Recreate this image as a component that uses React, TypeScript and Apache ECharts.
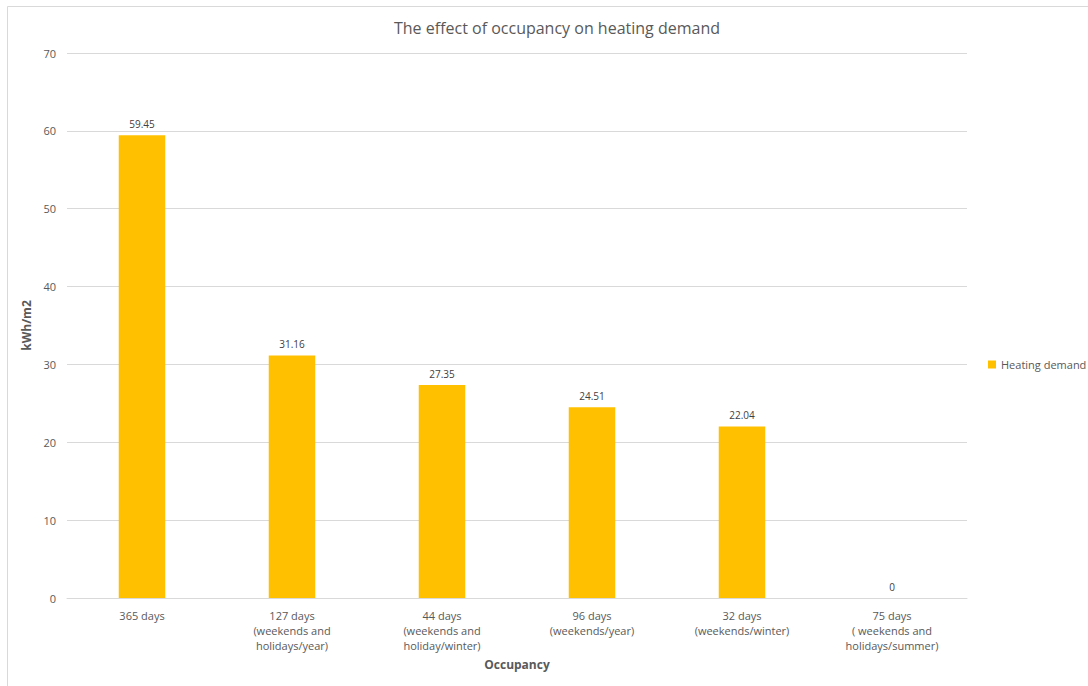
import React, { useEffect, useRef } from "react";
import * as echarts from "echarts";

const categories = [
  "365 days",
  "127 days\n(weekends and\nholidays/year)",
  "44 days\n(weekends and\nholiday/winter)",
  "96 days\n(weekends/year)",
  "32 days\n(weekends/winter)",
  "75 days\n( weekends and\nholidays/summer)",
];
const heatingDemand = [59.45, 31.16, 27.35, 24.51, 22.04, 0];
const seriesName = "Heating demand";
const titleText = "The effect of occupancy on heating demand";
const yAxisName = "kWh/m2";
const xAxisName = "Occupancy";

const FONT = "'Open Sans', 'Noto Sans', sans-serif";
const TEXT = "#595959";

export default function App() {
  const ref = useRef<HTMLDivElement>(null);
  useEffect(() => {
    if (!ref.current) return;
    const chart = echarts.init(ref.current, undefined, { renderer: "svg" });
    chart.setOption({
      animation: false,
      backgroundColor: "#ffffff",
      textStyle: { fontFamily: FONT },
      title: {
        text: titleText,
        left: 552,
        top: 15,
        textAlign: "center",
        textStyle: { fontSize: 16, fontWeight: "normal", color: TEXT, fontFamily: FONT },
      },
      legend: {
        orient: "vertical",
        left: 988,
        top: 359,
        padding: 0,
        itemWidth: 8,
        itemHeight: 8,
        itemGap: 4,
        icon: "rect",
        textStyle: { fontSize: 11, color: TEXT, fontFamily: FONT },
        data: [seriesName],
      },
      grid: { left: 67, right: 121, top: 53, bottom: 88, containLabel: false },
      xAxis: {
        type: "category",
        data: categories,
        name: xAxisName,
        nameLocation: "middle",
        nameGap: 60,
        nameTextStyle: { fontSize: 12, fontWeight: "bold", color: TEXT, fontFamily: FONT },
        axisLine: { lineStyle: { color: "#d9d9d9", width: 1 } },
        axisTick: { show: false },
        axisLabel: {
          fontSize: 11,
          color: TEXT,
          lineHeight: 15,
          margin: 10,
          interval: 0,
          fontFamily: FONT,
        },
      },
      yAxis: {
        type: "value",
        min: 0,
        max: 70,
        interval: 10,
        name: yAxisName,
        nameLocation: "middle",
        nameGap: 22,
        nameRotate: 90,
        nameTextStyle: { fontSize: 12, fontWeight: "bold", color: TEXT, fontFamily: FONT },
        axisLine: { show: false },
        axisTick: { show: false },
        axisLabel: { fontSize: 11, color: TEXT, margin: 11, fontFamily: FONT },
        splitLine: { lineStyle: { color: "#d9d9d9", width: 1 } },
      },
      graphic: [
        {
          type: "rect",
          shape: { x: 7.5, y: 6.5, width: 1200, height: 800 },
          style: { fill: "none", stroke: "#d9d9d9", lineWidth: 1 },
          silent: true,
        },
      ],
      series: [
        {
          name: seriesName,
          type: "bar",
          data: heatingDemand,
          barWidth: "31%",
          itemStyle: { color: "#ffc000" },
          label: {
            show: true,
            position: "top",
            distance: 6,
            fontSize: 10,
            color: "#404040",
            fontFamily: FONT,
          },
        },
      ],
    });
    return () => chart.dispose();
  }, []);
  return (
    <div
      ref={ref}
      style={{ position: "fixed", left: 0, top: 0, width: 1088, height: 686 }}
    />
  );
}
